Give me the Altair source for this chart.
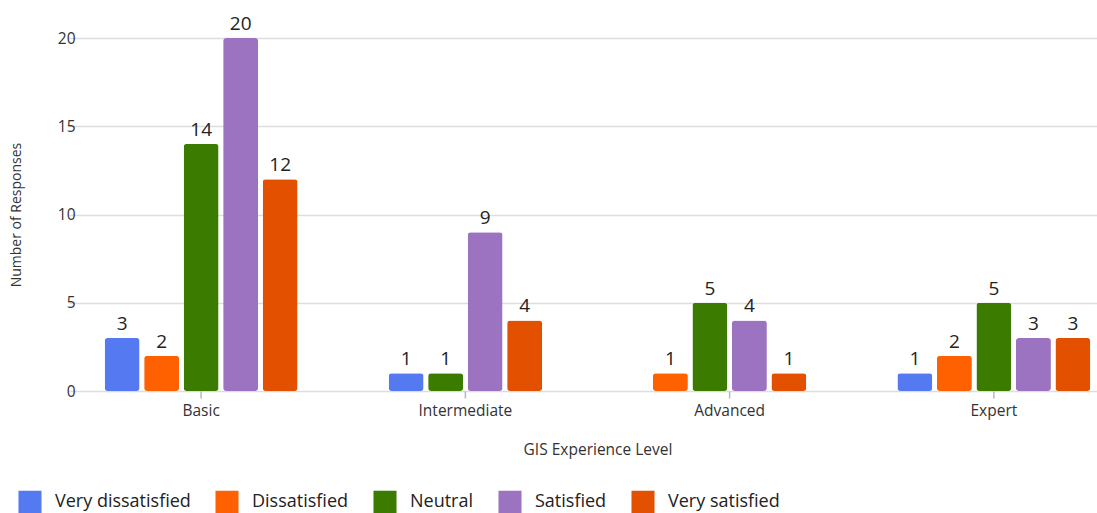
import altair as alt
import pandas as pd

groups = ["Basic", "Intermediate", "Advanced", "Expert"]
categories = ["Very dissatisfied", "Dissatisfied", "Neutral", "Satisfied", "Very satisfied"]
colors = ["#5479F0", "#FF6100", "#3A7B00", "#9C73C1", "#E35000"]

very_dissatisfied = [3, 1, 0, 1]
dissatisfied = [2, 0, 1, 2]
neutral = [14, 1, 5, 5]
satisfied = [20, 9, 4, 3]
very_satisfied = [12, 4, 1, 3]

series = [very_dissatisfied, dissatisfied, neutral, satisfied, very_satisfied]
rows = []
for ci, (cat, vals) in enumerate(zip(categories, series)):
    for g, v in zip(groups, vals):
        if v > 0:
            rows.append({"group": g, "category": cat, "order": ci, "value": v})
df = pd.DataFrame(rows)
gdf = pd.DataFrame({"group": groups})

FONT = "Open Sans"

base = alt.Chart(df).transform_window(
    rank="row_number()", groupby=["group"], sort=[alt.SortField("order")]
).transform_joinaggregate(
    n="count()", groupby=["group"]
).transform_calculate(
    off="datum.rank - 1 - (datum.n - 1) / 2"
)

x_enc = alt.X(
    "group:N",
    sort=groups,
    scale=alt.Scale(range=[-21, 1036], paddingInner=0, paddingOuter=0),
    axis=alt.Axis(
        title="GIS Experience Level",
        labelAngle=0,
        domain=False,
        ticks=False,
        labelPadding=12,
        titlePadding=24,
        labelFontSize=15.5,
        titleFontSize=15.5,
        labelColor="#333333",
        titleColor="#333333",
        labelFont=FONT,
        titleFont=FONT,
        titleFontWeight="normal",
        grid=False,
    ),
)
xo_enc = alt.XOffset("off:Q", scale=alt.Scale(domain=[-2.5, 2.5], range=[33.4, 230.9]))
y_enc = alt.Y(
    "value:Q",
    scale=alt.Scale(domain=[0, 20], nice=False),
    axis=alt.Axis(
        title="Number of Responses",
        values=[0, 5, 10, 15, 20],
        domain=False,
        ticks=False,
        gridColor="#dddddd",
        gridWidth=1.5,
        labelPadding=15,
        titlePadding=34,
        labelFontSize=15.5,
        titleFontSize=14,
        labelColor="#333333",
        titleColor="#333333",
        labelFont=FONT,
        titleFont=FONT,
        titleFontWeight="normal",
    ),
)
color_enc = alt.Color(
    "category:N",
    sort=categories,
    scale=alt.Scale(domain=categories, range=colors),
    legend=alt.Legend(
        title=None,
        orient="none",
        direction="horizontal",
        legendX=-72,
        legendY=452,
        symbolType="square",
        symbolSize=530,
        symbolStrokeWidth=0,
        symbolOpacity=1,
        labelFontSize=18,
        labelFont=FONT,
        labelColor="#222222",
        labelOffset=13,
        columnPadding=24,
    ),
)

bars = base.mark_bar(width=35, cornerRadius=3).encode(
    x=x_enc, xOffset=xo_enc, y=y_enc, color=color_enc
)
labels = base.mark_text(
    dy=-8, baseline="alphabetic", fontSize=19, font=FONT, color="#222222"
).encode(x=x_enc, xOffset=xo_enc, y=y_enc, text="value:Q")

ticks = alt.Chart(gdf).mark_tick(
    orient="vertical", size=7, thickness=1.5, color="#b8b8b8", opacity=1
).encode(x=x_enc, y=alt.value(357))

chart = (ticks + bars + labels).properties(
    width=1007,
    height=353,
    autosize=alt.AutoSizeParams(type="none"),
    padding={"left": 90, "top": 38, "right": 0, "bottom": 122},
).configure_view(stroke=None)

chart.save("out.html", embed_options={"renderer": "svg", "actions": False})
